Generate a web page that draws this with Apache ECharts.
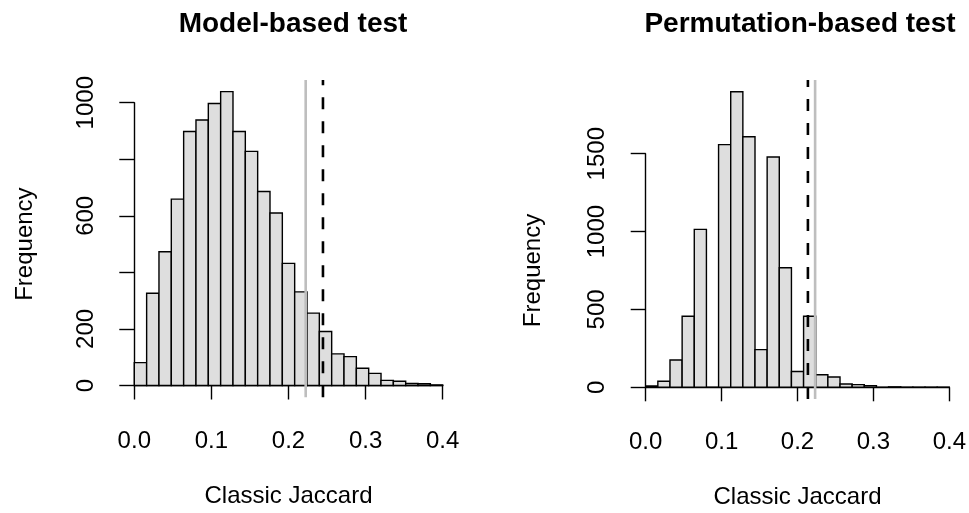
<!DOCTYPE html>
<html>
<head>
<meta charset="utf-8">
<script src="https://cdn.jsdelivr.net/npm/echarts@6/dist/echarts.min.js"></script>
<style>html,body{margin:0;padding:0;background:#fff}#c{width:969px;height:513px}</style>
</head>
<body>
<div id="c"></div>
<script>
// ---- data ----
const binWidth = 0.016;
const binStart = 0;
const modelCounts = [81, 326, 473, 659, 898, 939, 997, 1039, 898, 828, 686, 610, 432, 331, 256, 191, 112, 102, 61, 43, 18, 15, 7, 6, 2];
const permCounts = [9, 39, 175, 456, 1014, 0, 1558, 1898, 1609, 242, 1479, 768, 101, 456, 81, 66, 21, 17, 11, 0, 3, 1, 1, 1, 1];
const modelObserved = 0.2447;   // dashed black
const modelReference = 0.2223;  // solid grey
const permObserved = 0.2137;
const permReference = 0.2232;
const xTicks = [0, 0.1, 0.2, 0.3, 0.4];
const modelYLabels = {0: '0', 200: '200', 600: '600', 1000: '1000'};
const permYLabels = {0: '0', 500: '500', 1000: '1000', 1500: '1500'};
const titles = ['Model-based test', 'Permutation-based test'];
const xName = 'Classic Jaccard';
const yName = 'Frequency';

const FONT = 'Liberation Sans, Arial, Helvetica, sans-serif';

function bins(counts) {
  return counts.map((c, i) => [binStart + i * binWidth, binStart + (i + 1) * binWidth, c]);
}
function histSeries(counts, idx) {
  return {
    type: 'custom', xAxisIndex: idx, yAxisIndex: idx, clip: false,
    data: bins(counts),
    renderItem: function (params, api) {
      const p0 = api.coord([api.value(0), api.value(2)]);
      const p1 = api.coord([api.value(1), 0]);
      return {
        type: 'rect',
        shape: {x: p0[0], y: p0[1], width: p1[0] - p0[0], height: p1[1] - p0[1]},
        style: {fill: '#dedede', stroke: '#000', lineWidth: 1.4}
      };
    },
    z: 2
  };
}
function vline(x, counts, idx, dashed) {
  const m = Math.max.apply(null, counts);
  return {
    type: 'line', xAxisIndex: idx, yAxisIndex: idx, clip: false, showSymbol: false, symbol: 'none',
    silent: true, animation: false,
    data: [[x, -0.04 * m], [x, 1.04 * m]],
    lineStyle: dashed ? {color: '#000', width: 2.6, type: [12, 12]} : {color: '#bebebe', width: 2.6},
    z: dashed ? 4 : 3
  };
}
function xAxis(idx) {
  return {
    type: 'value', gridIndex: idx, min: xTicks[0], max: xTicks[xTicks.length - 1], interval: 0.1,
    offset: 12.5, splitLine: {show: false},
    axisLine: {show: true, lineStyle: {color: '#000', width: 1.4}},
    axisTick: {show: true, length: 14, lineStyle: {color: '#000', width: 1.4}},
    axisLabel: {color: '#000', fontSize: 24, fontFamily: FONT, margin: 31, formatter: v => v.toFixed(1)},
    name: xName, nameLocation: 'middle', nameGap: 86,
    nameTextStyle: {color: '#000', fontSize: 24, fontFamily: FONT}
  };
}
function yAxis(idx, max, interval, labels, nameGap) {
  return {
    type: 'value', gridIndex: idx, min: 0, max: max, interval: interval,
    offset: 12.3, splitLine: {show: false},
    axisLine: {show: true, lineStyle: {color: '#000', width: 1.4}},
    axisTick: {show: true, length: 15, lineStyle: {color: '#000', width: 1.4}},
    axisLabel: {color: '#000', fontSize: 24, fontFamily: FONT, rotate: 90, margin: 24,
      formatter: v => (labels[v] !== undefined ? labels[v] : '')},
    name: yName, nameLocation: 'middle', nameGap: nameGap, nameRotate: 90,
    nameTextStyle: {color: '#000', fontSize: 24, fontFamily: FONT}
  };
}

const chart = echarts.init(document.getElementById('c'), null, {renderer: 'canvas'});
chart.setOption({
  backgroundColor: '#fff',
  animation: false,
  title: [
    {text: titles[0], left: 288, top: 5, textAlign: 'center',
     textStyle: {fontSize: 28, fontWeight: 'bold', color: '#000', fontFamily: FONT}},
    {text: titles[1], left: 795, top: 5, textAlign: 'center',
     textStyle: {fontSize: 28, fontWeight: 'bold', color: '#000', fontFamily: FONT}}
  ],
  grid: [
    {left: 134.3, width: 308.4, top: 102.7, height: 284.6},
    {left: 645.7, width: 307.6, top: 153.7, height: 233.6}
  ],
  xAxis: [xAxis(0), xAxis(1)],
  yAxis: [yAxis(0, 1000, 200, modelYLabels, 85), yAxis(1, 1500, 500, permYLabels, 88)],
  series: [
    histSeries(modelCounts, 0),
    vline(modelReference, modelCounts, 0, false),
    vline(modelObserved, modelCounts, 0, true),
    histSeries(permCounts, 1),
    vline(permReference, permCounts, 1, false),
    vline(permObserved, permCounts, 1, true)
  ]
});
</script>
</body>
</html>
